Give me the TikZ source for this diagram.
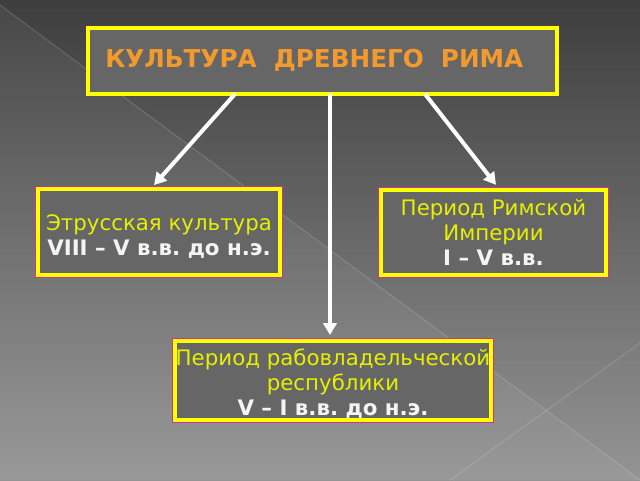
\documentclass[tikz,border=0pt]{standalone}
\usepackage{fontspec}
\setmainfont{DejaVu Sans}
\frenchspacing
\usetikzlibrary{arrows.meta,calc}
\definecolor{bgtop}{HTML}{3E3E3E}
\definecolor{bgbot}{HTML}{949494}
\definecolor{boxfill}{HTML}{666666}
\definecolor{frameY}{HTML}{FFFF00}
\definecolor{frameM}{HTML}{CC3399}
\definecolor{titleC}{HTML}{F39A2E}
\definecolor{textY}{HTML}{E6F000}
\definecolor{textW}{HTML}{F4F4F4}
\begin{document}
\begin{tikzpicture}[x=0.75pt,y=-0.75pt,
  framebox/.style={rectangle, fill=boxfill, draw=frameY, line width=3pt, inner sep=0pt, outer sep=0pt},
  subbox/.style={framebox, preaction={draw=frameM, line width=4.5pt}},
  subtext/.style={align=center, inner sep=0pt, font=\fontsize{16}{18.75}\selectfont, text=textY},
  conn/.style={draw=white, line width=3pt, -{Triangle[length=9pt,width=10pt]}},
  bgline/.style={draw=white, line width=0.75pt, opacity=0.15}
  ]
\useasboundingbox (0,0) rectangle (640,480);
\shade[top color=bgtop, bottom color=bgbot] (0,0) rectangle (640,480);
\fill[white, opacity=0.05] (0,5) -- (640,480) -- (0,480) -- cycle;
\draw[bgline] (0,5) -- (640,480);
\draw[bgline] (640,343) -- (450,480);

\node[framebox, minimum width=351.4pt, minimum height=49.5pt] (top) at (322.75,61) {};
\node[font=\bfseries\fontsize{18.5}{22}\selectfont, text=titleC, anchor=base west, inner sep=0pt] (title) at (105,67) {КУЛЬТУРА\ \ ДРЕВНЕГО\ \ РИМА};

\node[subbox, minimum width=181.5pt, minimum height=64.5pt] (left) at (159,232) {};
\node[subtext] (lefttext) at ($(left.center)+(0,4.7)$)
  {Этрусская культура\\ \textcolor{textW}{\bfseries VIII – V в.в. до н.э.}};
\node[subbox, minimum width=168.75pt, minimum height=64pt] (right) at (493.5,232.5) {};
\node[subtext] (righttext) at ($(right.center)+(0,0.3)$)
  {Период Римской\\ Империи\\ \textcolor{textW}{\bfseries I – V в.в.}};
\node[subbox, minimum width=237pt, minimum height=59.25pt] (bottom) at (333,380.5) {};
\node[subtext] (bottomtext) at ($(bottom.center)+(0,2.7)$)
  {Период рабовладельческой\\ республики\\ \textcolor{textW}{\bfseries V – I в.в. до н.э.}};

\draw[conn] ($(top.south)+(-87.75,0)$) -- ($(left.north)+(-5,-4)$);
\draw[conn] ($(top.south)+(7.25,0)$) -- ($(bottom.north)+(-3,-6)$);
\draw[conn] ($(top.south)+(102.25,0)$) -- ($(right.north)+(2.5,-5)$);
\end{tikzpicture}
\end{document}
